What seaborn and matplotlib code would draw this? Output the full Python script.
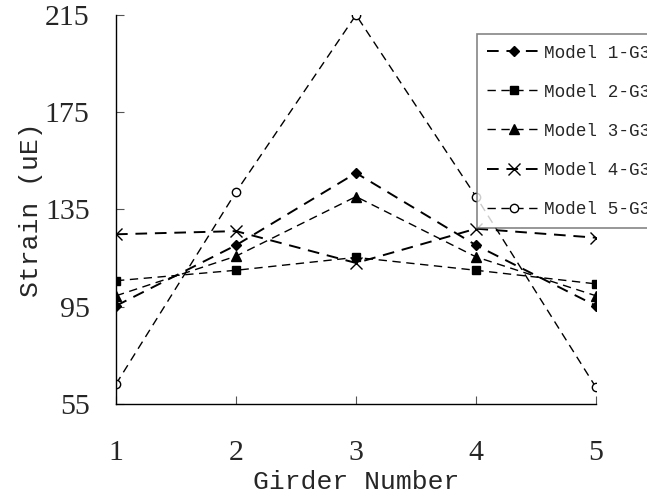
import pandas as pd
import numpy as np
import matplotlib.pyplot as plt
import seaborn as sns

# strain readings per girder
girders = [1, 2, 3, 4, 5]
models = ['Model 1-G3', 'Model 2-G3', 'Model 3-G3', 'Model 4-G3', 'Model 5-G3']
model1 = [95.4, 120.3, 150.0, 120.3, 95.4]
model2 = [105.7, 110.0, 115.3, 110.0, 104.4]
model3 = [99.5, 115.8, 140.3, 115.5, 99.5]
model4 = [124.8, 126.1, 113.0, 127.1, 123.4]
model5 = [63.2, 142.2, 215.0, 140.3, 61.8]
yticks = [55, 95, 135, 175, 215]

rows = []
for name, vals in zip(models, [model1, model2, model3, model4, model5]):
    for g, v in zip(girders, vals):
        rows.append({'Girder': g, 'Strain': v, 'Model': name})
df = pd.DataFrame(rows)

sns.set_style('ticks')
plt.rcParams['font.family'] = ['Liberation Mono', 'DejaVu Sans Mono']

fig = plt.figure(figsize=(6.47, 4.96), dpi=100)
ax = fig.add_axes([0.1793, 0.1855, 0.7419, 0.7843])

markers = {'Model 1-G3': 'D', 'Model 2-G3': 's', 'Model 3-G3': '^',
           'Model 4-G3': 'x', 'Model 5-G3': 'o'}
sizes = {'Model 1-G3': 5, 'Model 2-G3': 6, 'Model 3-G3': 7,
         'Model 4-G3': 8, 'Model 5-G3': 6}

for name in models:
    sub = df[df['Model'] == name]
    mfc = 'white' if name == 'Model 5-G3' else 'black'
    lw = 1.4 if name in ('Model 1-G3', 'Model 4-G3') else 1.0
    sns.lineplot(data=sub, x='Girder', y='Strain', ax=ax, color='black',
                 linewidth=lw, linestyle=(0, (6, 4)), marker=markers[name],
                 markersize=sizes[name], markerfacecolor=mfc,
                 markeredgecolor='black', markeredgewidth=1.0, label=name)

ax.set_xlim(1, 5)
ax.set_ylim(55, 215)
ax.set_xticks(girders)
ax.set_yticks(yticks)
ax.tick_params(direction='in', length=6, color='#555555')
ax.tick_params(axis='x', pad=26)
ax.tick_params(axis='y', pad=19)
for lab in ax.get_xticklabels() + ax.get_yticklabels():
    lab.set_fontfamily(['Liberation Serif', 'DejaVu Serif'])
    lab.set_fontsize(21.5)
ax.set_xlabel('Girder Number', fontsize=19, labelpad=3)
ax.set_ylabel('Strain (uE)', fontsize=19, labelpad=1.5)
sns.despine(ax=ax)
for sp in ['left', 'bottom']:
    ax.spines[sp].set_color('black')
    ax.spines[sp].set_linewidth(1.0)

leg = ax.legend(loc='upper left', bbox_to_anchor=(0.737, 0.9315),
                bbox_transform=fig.transFigure, fontsize=12.7, frameon=True,
                fancybox=False, edgecolor='#666666', handlelength=3.0,
                labelspacing=1.25, borderpad=0.6, handletextpad=0.2,
                borderaxespad=0)
leg.get_frame().set_linewidth(1.2)

fig.savefig('out.png', dpi=100)
